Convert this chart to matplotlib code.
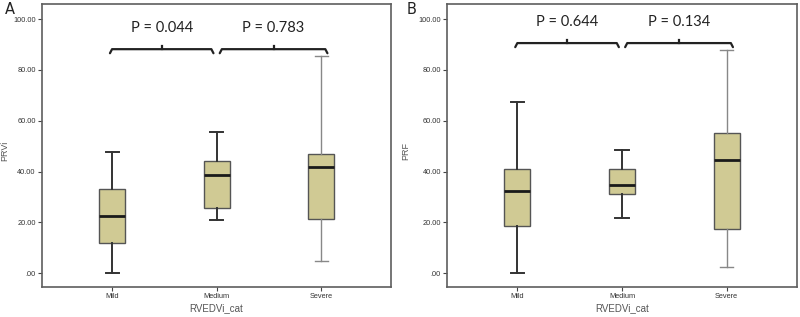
import matplotlib.pyplot as plt

categories = ['Mild', 'Medium', 'Severe']

# panel A: PRVi  (whislo, q1, med, q3, whishi)
prvi_lo = [0.0, 21.0, 4.7]
prvi_q1 = [12.0, 25.5, 21.2]
prvi_med = [22.3, 38.5, 41.7]
prvi_q3 = [33.0, 44.3, 47.0]
prvi_hi = [47.5, 55.7, 85.5]
prvi_p = ['P = 0.044', 'P = 0.783']

# panel B: PRF
prf_lo = [0.0, 21.5, 2.5]
prf_q1 = [18.6, 31.0, 17.5]
prf_med = [32.2, 34.5, 44.6]
prf_q3 = [40.8, 40.9, 55.2]
prf_hi = [67.5, 48.5, 88.0]
prf_p = ['P = 0.644', 'P = 0.134']

yticks = [0, 20, 40, 60, 80, 100]
ytick_labels = ['.00', '20.00', '40.00', '60.00', '80.00', '100.00']

box_color = '#d0ca94'
frame_color = '#5e5e5e'
small_font = ['Liberation Sans', 'DejaVu Sans']


def brace(ax, x0, x1, y):
    h = 1.6
    xm = (x0 + x1) / 2
    ax.plot([x0, x0 + 0.02, x1 - 0.02, x1], [y - h, y, y, y - h],
            color='#222222', lw=1.6, solid_capstyle='round', solid_joinstyle='round')
    ax.plot([xm, xm], [y, y + h * 0.8], color='#222222', lw=1.6)


def draw_panel(ax, lo, q1, med, q3, hi, pvals, ylabel, brace_y, text_y, ylab_x):
    stats = []
    for i in range(len(categories)):
        stats.append({'whislo': lo[i], 'q1': q1[i], 'med': med[i],
                      'q3': q3[i], 'whishi': hi[i], 'fliers': []})
    bp = ax.bxp(stats, positions=range(len(categories)), widths=0.25,
                capwidths=0.125, patch_artist=True, showfliers=False,
                boxprops=dict(facecolor=box_color, edgecolor='#555555', lw=1.0),
                medianprops=dict(color='#1a1a1a', lw=2.0),
                whiskerprops=dict(color='#333333', lw=1.4),
                capprops=dict(color='#333333', lw=1.4))
    # severe whiskers drawn lighter
    for art in bp['whiskers'][4:6] + bp['caps'][4:6]:
        art.set_color('#888888')
        art.set_linewidth(1.0)

    ax.set_xlim(-0.67, 2.67)
    ax.set_ylim(-5.5, 105.9)
    ax.set_yticks(yticks)
    ax.set_yticklabels(ytick_labels, family=small_font)
    ax.set_xticks(range(len(categories)))
    ax.set_xticklabels(categories, family=small_font)
    ax.tick_params(axis='both', labelsize=5.3, length=3, color='#444444',
                   labelcolor='#333333', pad=1.5)
    for s in ax.spines.values():
        s.set_color(frame_color)
        s.set_linewidth(1.2)
    ax.set_xlabel('RVEDVi_cat', fontsize=7, color='#555555', family=small_font)
    ax.xaxis.set_label_coords(0.5, -0.058)
    ax.set_ylabel(ylabel, fontsize=6.5, color='#555555', family=small_font)
    ax.yaxis.set_label_coords(ylab_x, 0.48)

    for i, p in enumerate(pvals):
        x0 = i - 0.02 + 0.05 * i
        x1 = i + 0.97 + 0.09 * i
        brace(ax, x0, x1, brace_y)
        ax.text((x0 + x1) / 2, text_y, p, ha='center', va='center',
                fontsize=10.5, color='#222222', family=['Lato', 'DejaVu Sans'])


fig = plt.figure(figsize=(8, 3.17), dpi=100)
ax1 = fig.add_axes([0.0525, 0.0946, 0.4365, 0.892])
ax2 = fig.add_axes([0.559, 0.0946, 0.437, 0.892])

draw_panel(ax1, prvi_lo, prvi_q1, prvi_med, prvi_q3, prvi_hi, prvi_p,
           'PRVi', 88.2, 96.5, -0.093)
draw_panel(ax2, prf_lo, prf_q1, prf_med, prf_q3, prf_hi, prf_p,
           'PRF', 90.6, 98.8, -0.105)

fig.text(5 / 800, 1 - 2 / 317, 'A', fontsize=10.5, ha='left', va='top',
         color='#222222')
fig.text(407 / 800, 1 - 2 / 317, 'B', fontsize=10.5, ha='left', va='top',
         color='#222222')

fig.savefig('out.png', dpi=100)
